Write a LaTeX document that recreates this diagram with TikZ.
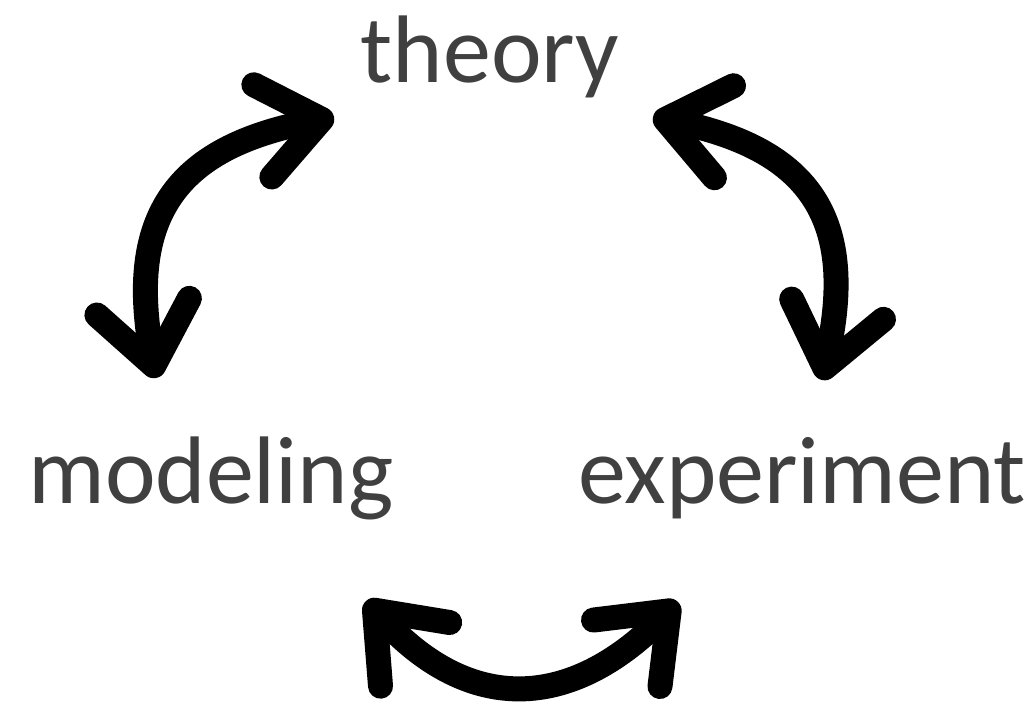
\documentclass[tikz,border=0pt]{standalone}
\usepackage{fontspec}
\setmainfont{Carlito}
\usepackage{tikz}
\usetikzlibrary{positioning,arrows.meta}

\definecolor{wordgray}{HTML}{404040}

\begin{document}
\begin{tikzpicture}[x=1pt,y=-1pt,
		>={Straight Barb[length=60pt,width=94pt,round]},
		word/.style={text=wordgray,inner sep=0pt,anchor=base,
			font=\fontsize{96}{115}\selectfont},
		link/.style={<->,line width=25pt},
		]
		\useasboundingbox (0,0) rectangle (1032,702);
		
		% Words
		\node[word] (theory) at (490,82) {theory};
		\node[word] (modeling) at (211,503) {modeling};
		\node[word] (experiment) at (802,503) {experiment};
		
		% Arrow ends
		\coordinate (tm) at (156,378);
		\coordinate (mt) at (334,117);
		\coordinate (te) at (653,117);
		\coordinate (et) at (822,380);
		\coordinate (me) at (366,601);
		\coordinate (em) at (678,602);
		
		% Arrows
		\draw[link] (tm) .. controls (127,217) and (175,148) .. (mt);
		\draw[link] (te) .. controls (812,150) and (857,221) .. (et);
		\draw[link] (me) .. controls (470,714) and (570,710) .. (em);
		
	\end{tikzpicture}
\end{document}
